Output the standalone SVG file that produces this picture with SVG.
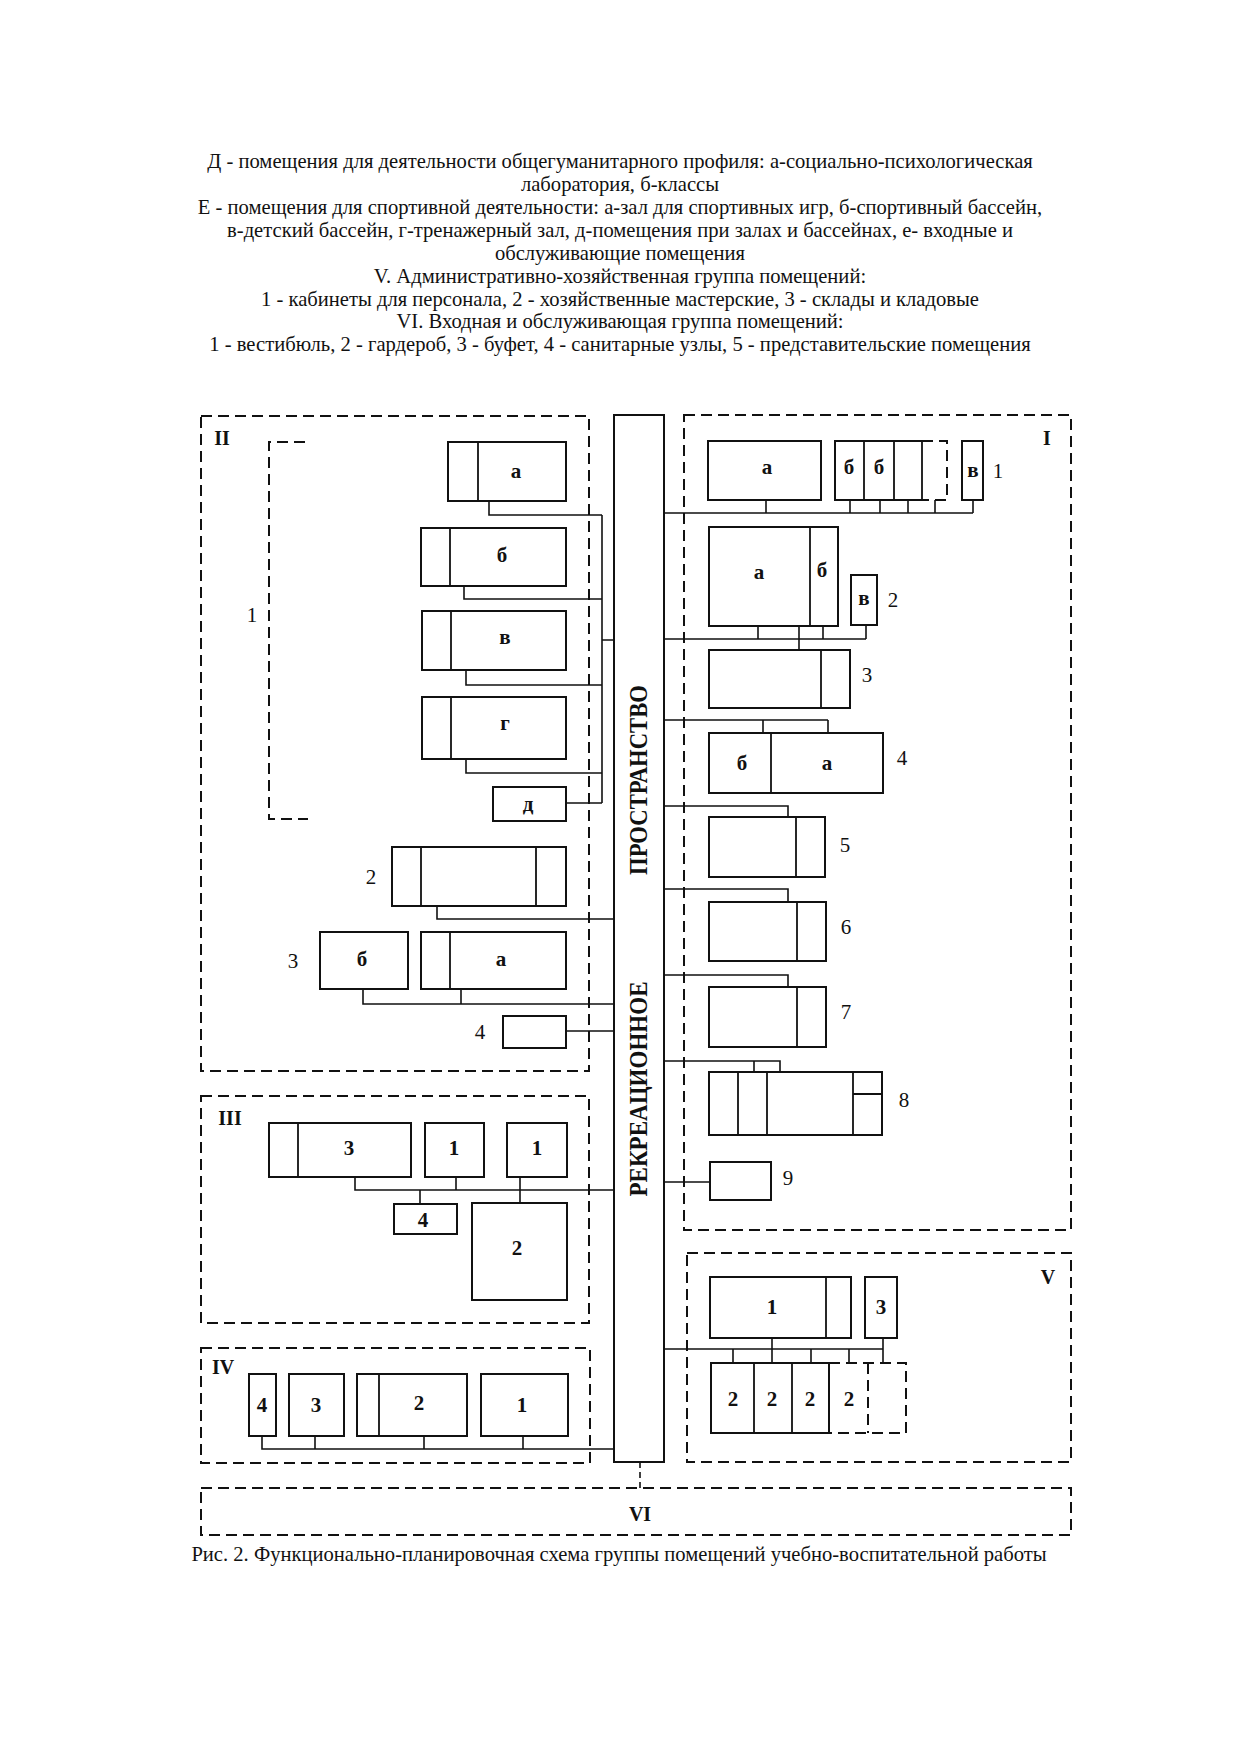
<svg xmlns="http://www.w3.org/2000/svg" width="1240" height="1755" viewBox="0 0 1240 1755">
<style>
.hdr{font-family:"Liberation Serif","Times New Roman",serif;font-size:20.6px;fill:#111;text-anchor:middle}
.box{fill:none;stroke:#111;stroke-width:2}
.div{fill:none;stroke:#111;stroke-width:1.8}
.dsh{fill:none;stroke:#111;stroke-width:2;stroke-dasharray:11 6}
.con{fill:none;stroke:#111;stroke-width:1.6}
.lb{font-family:"Liberation Serif","Times New Roman",serif;font-size:21px;font-weight:bold;fill:#111;text-anchor:middle}
.num{font-family:"Liberation Serif","Times New Roman",serif;font-size:21px;fill:#111;text-anchor:middle}
.grp{font-family:"Liberation Serif","Times New Roman",serif;font-size:20px;font-weight:bold;fill:#111;text-anchor:middle}
.sp{font-family:"Liberation Serif","Times New Roman",serif;font-size:25px;font-weight:bold;fill:#111;text-anchor:middle}
</style>
<rect width="1240" height="1755" fill="#fff"/>
<g id="header">
<text class="hdr" x="620" y="168">Д - помещения для деятельности общегуманитарного профиля: а-социально-психологическая</text>
<text class="hdr" x="620" y="191">лаборатория, б-классы</text>
<text class="hdr" x="620" y="214">Е - помещения для спортивной деятельности: а-зал для спортивных игр, б-спортивный бассейн,</text>
<text class="hdr" x="620" y="237">в-детский бассейн, г-тренажерный зал, д-помещения при залах и бассейнах, е- входные и</text>
<text class="hdr" x="620" y="260">обслуживающие помещения</text>
<text class="hdr" x="620" y="283">V. Административно-хозяйственная группа помещений:</text>
<text class="hdr" x="620" y="306">1 - кабинеты для персонала, 2 - хозяйственные мастерские, 3 - склады и кладовые</text>
<text class="hdr" x="620" y="328">VI. Входная и обслуживающая группа помещений:</text>
<text class="hdr" x="620" y="351">1 - вестибюль, 2 - гардероб, 3 - буфет, 4 - санитарные узлы, 5 - представительские помещения</text>
</g>
<g id="groups">
<rect id="group-II" class="dsh" x="201" y="416" width="388" height="655"/>
<rect id="group-III" class="dsh" x="201" y="1096" width="388" height="227"/>
<rect id="group-IV" class="dsh" x="201" y="1348" width="389" height="115"/>
<rect id="group-I" class="dsh" x="684" y="415" width="387" height="815"/>
<rect id="group-V" class="dsh" x="687" y="1253" width="384" height="209"/>
<rect id="group-VI" class="dsh" x="201" y="1488" width="870" height="47"/>
<text class="grp" x="222" y="445">II</text>
<text class="grp" x="230" y="1125">III</text>
<text class="grp" x="223" y="1374">IV</text>
<text class="grp" x="1047" y="445">I</text>
<text class="grp" x="1048" y="1284">V</text>
<text class="grp" x="640" y="1521" font-size="22">VI</text>
</g>
<g id="spine">
<rect class="box" x="614" y="415" width="50" height="1047"/>
<text class="sp" transform="translate(647,1089) rotate(-90)" textLength="215" lengthAdjust="spacingAndGlyphs">РЕКРЕАЦИОННОЕ</text>
<text class="sp" transform="translate(647,780) rotate(-90)" textLength="190" lengthAdjust="spacingAndGlyphs">ПРОСТРАНСТВО</text>
</g>
<g id="connectors">
<path class="con" d="M489,501V515H602M464,586V599H602M466,670V685H602M466,759V773H602M566,803H602M602,515V803M602,640H614"/>
<path class="con" d="M437,906V919H614M363,989V1004H614M461,989V1004M566,1031H614"/>
<path class="con" d="M355,1177V1190H614M456,1177V1190M520,1177V1203M420,1190V1204"/>
<path class="con" d="M262,1436V1449H614M315,1436V1449M424,1436V1449M523,1436V1449"/>
<path class="con" d="M664,513H973M766,500V513M850,500V513M880,500V513M908,500V513M935,500V513M973,500V513"/>
<path class="con" d="M664,639H866M758,626V639M799,626V650M823,626V639M866,625V639"/>
<path class="con" d="M664,720H828M763,720V733M828,720V733"/>
<path class="con" d="M664,806H788V817M664,889H788V902M664,975H788V987"/>
<path class="con" d="M664,1061H780V1072M754,1061V1072M664,1182H710"/>
<path class="con" d="M664,1349H883M772,1338V1363M883,1338V1363M733,1349V1363M811,1349V1363M849,1349V1363"/>
<path class="con" d="M640,1462V1488" stroke-dasharray="6 4"/>
</g>
<g id="II-1">
<path class="dsh" d="M305,442H269V819H308"/>
<text class="num" x="252" y="622">1</text>
</g>
<g id="II-a"><rect class="box" x="448" y="442" width="118" height="59"/><path class="div" d="M478,442V501"/><text class="lb" x="516" y="478">а</text></g>
<g id="II-b"><rect class="box" x="421" y="528" width="145" height="58"/><path class="div" d="M450,528V586"/><text class="lb" x="502" y="562">б</text></g>
<g id="II-v"><rect class="box" x="422" y="611" width="144" height="59"/><path class="div" d="M451,611V670"/><text class="lb" x="505" y="644" font-size="18">в</text></g>
<g id="II-g"><rect class="box" x="422" y="697" width="144" height="62"/><path class="div" d="M451,697V759"/><text class="lb" x="505" y="730" font-size="18">г</text></g>
<g id="II-d"><rect class="box" x="493" y="787" width="73" height="34"/><text class="lb" x="528" y="811" font-size="18">д</text></g>
<g id="II-2"><rect class="box" x="392" y="847" width="174" height="59"/><path class="div" d="M421,847V906M536,847V906"/><text class="num" x="371" y="884">2</text></g>
<g id="II-3">
<rect class="box" x="320" y="932" width="88" height="57"/><text class="lb" x="362" y="966">б</text>
<rect class="box" x="421" y="932" width="145" height="57"/><path class="div" d="M450,932V989"/><text class="lb" x="501" y="966">а</text>
<text class="num" x="293" y="968">3</text>
</g>
<g id="II-4"><rect class="box" x="503" y="1016" width="63" height="32"/><text class="num" x="480" y="1039">4</text></g>
<g id="III-3"><rect class="box" x="269" y="1123" width="142" height="54"/><path class="div" d="M298,1123V1177"/><text class="lb" x="349" y="1155">3</text></g>
<g id="III-1a"><rect class="box" x="425" y="1123" width="59" height="54"/><text class="lb" x="454" y="1155">1</text></g>
<g id="III-1b"><rect class="box" x="507" y="1123" width="60" height="54"/><text class="lb" x="537" y="1155">1</text></g>
<g id="III-4"><rect class="box" x="394" y="1204" width="63" height="30"/><text class="lb" x="423" y="1227">4</text></g>
<g id="III-2"><rect class="box" x="472" y="1203" width="95" height="97"/><text class="lb" x="517" y="1255">2</text></g>
<g id="IV-4"><rect class="box" x="249" y="1374" width="27" height="62"/><text class="lb" x="262" y="1412">4</text></g>
<g id="IV-3"><rect class="box" x="289" y="1374" width="55" height="62"/><text class="lb" x="316" y="1412">3</text></g>
<g id="IV-2"><rect class="box" x="357" y="1374" width="110" height="62"/><path class="div" d="M379,1374V1436"/><text class="lb" x="419" y="1410">2</text></g>
<g id="IV-1"><rect class="box" x="481" y="1374" width="87" height="62"/><text class="lb" x="522" y="1412">1</text></g>
<g id="I-1">
<rect class="box" x="708" y="441" width="113" height="59"/><text class="lb" x="767" y="474">а</text>
<path class="box" d="M922,441H835V500H922"/><path class="div" d="M864,441V500M894,441V500M922,441V500"/>
<path class="dsh" d="M922,441H947V500H922"/>
<text class="lb" x="849" y="474">б</text><text class="lb" x="879" y="474">б</text>
<rect class="box" x="962" y="441" width="21" height="59"/><text class="lb" x="973" y="477" font-size="17">в</text>
<text class="num" x="998" y="478">1</text>
</g>
<g id="I-2">
<rect class="box" x="709" y="527" width="129" height="99"/><path class="div" d="M810,527V626"/>
<text class="lb" x="759" y="579">а</text><text class="lb" x="822" y="577">б</text>
<rect class="box" x="851" y="575" width="26" height="50"/><text class="lb" x="864" y="605" font-size="17">в</text>
<text class="num" x="893" y="607">2</text>
</g>
<g id="I-3"><rect class="box" x="709" y="650" width="141" height="58"/><path class="div" d="M821,650V708"/><text class="num" x="867" y="682">3</text></g>
<g id="I-4"><rect class="box" x="709" y="733" width="174" height="60"/><path class="div" d="M771,733V793"/><text class="lb" x="742" y="770">б</text><text class="lb" x="827" y="770">а</text><text class="num" x="902" y="765">4</text></g>
<g id="I-5"><rect class="box" x="709" y="817" width="116" height="60"/><path class="div" d="M796,817V877"/><text class="num" x="845" y="852">5</text></g>
<g id="I-6"><rect class="box" x="709" y="902" width="117" height="59"/><path class="div" d="M797,902V961"/><text class="num" x="846" y="934">6</text></g>
<g id="I-7"><rect class="box" x="709" y="987" width="117" height="60"/><path class="div" d="M797,987V1047"/><text class="num" x="846" y="1019">7</text></g>
<g id="I-8"><rect class="box" x="709" y="1072" width="173" height="63"/><path class="div" d="M738,1072V1135M767,1072V1135M853,1072V1135M853,1094H882"/><text class="num" x="904" y="1107">8</text></g>
<g id="I-9"><rect class="box" x="710" y="1162" width="61" height="38"/><text class="num" x="788" y="1185">9</text></g>
<g id="V-1"><rect class="box" x="710" y="1277" width="141" height="61"/><path class="div" d="M826,1277V1338"/><text class="lb" x="772" y="1314">1</text></g>
<g id="V-3"><rect class="box" x="865" y="1277" width="32" height="61"/><text class="lb" x="881" y="1314">3</text></g>
<g id="V-2">
<path class="box" d="M829,1363H711V1433H829Z"/><path class="div" d="M754,1363V1433M792,1363V1433"/>
<path class="dsh" d="M829,1363H906V1433H829M868,1363V1433"/>
<text class="lb" x="733" y="1406">2</text><text class="lb" x="772" y="1406">2</text><text class="lb" x="810" y="1406">2</text><text class="lb" x="849" y="1406">2</text>
</g>
<text class="hdr" x="619" y="1561">Рис. 2. Функционально-планировочная схема группы помещений учебно-воспитательной работы</text>
</svg>
